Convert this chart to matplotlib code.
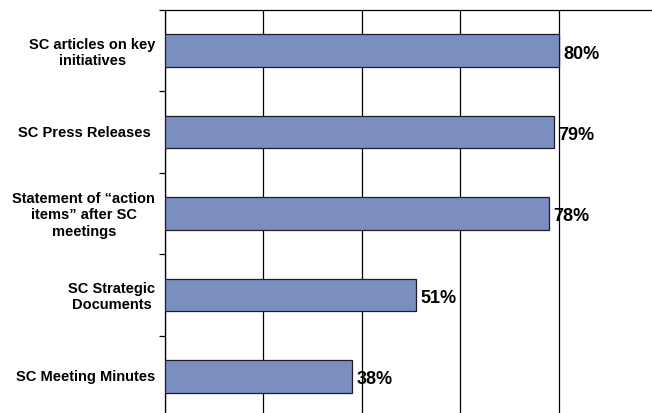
import matplotlib
matplotlib.use("Agg")
import matplotlib.pyplot as plt

categories = ["SC articles on key\ninitiatives",
              "SC Press Releases ",
              "Statement of \u201caction\nitems\u201d after SC\nmeetings",
              "SC Strategic\nDocuments",
              "SC Meeting Minutes"]
values = [80, 79, 78, 51, 38]
value_labels = ["80%", "79%", "78%", "51%", "38%"]
xticks = [0, 20, 40, 60, 80, 100]

plt.rcParams['font.family'] = ['Liberation Sans', 'DejaVu Sans']

fig = plt.figure(figsize=(6.52, 4.14), dpi=100)
ax = fig.add_axes([165/652, -4/414, 492/652, 407/414])

n = len(categories)
ypos = list(range(n))
ax.barh(ypos, values, height=0.4, color='#7B8EC0', edgecolor='#1c1c2c', linewidth=0.9, zorder=3)
ax.set_ylim(n - 0.5, -0.5)
ax.set_xlim(0, 100)
ax.set_xticks(xticks)
ax.set_xticklabels([])
ax.tick_params(axis='x', length=0)
ax.xaxis.grid(True, color='black', linewidth=0.9, zorder=0)
ax.set_axisbelow(True)

ax.set_yticks([i + 0.5 for i in range(-1, n)], minor=False)
ax.set_yticklabels([])
ax.tick_params(axis='y', which='major', length=4, width=0.9, color='black', direction='out')
ax.set_yticks([y - 0.02 for y in ypos], minor=True)
ax.set_yticklabels(categories, minor=True, fontsize=10.5, fontweight='bold',
                   multialignment='center', linespacing=1.2)
ax.tick_params(axis='y', which='minor', length=0, pad=7)

for s in ['left', 'top', 'right', 'bottom']:
    ax.spines[s].set_color('black')
    ax.spines[s].set_linewidth(0.9)

for y, v, lab in zip(ypos, values, value_labels):
    ax.text(v + 1.0, y + 0.03, lab, va='center', ha='left', fontsize=13, fontweight='bold')

fig.savefig("out.png", dpi=100)
